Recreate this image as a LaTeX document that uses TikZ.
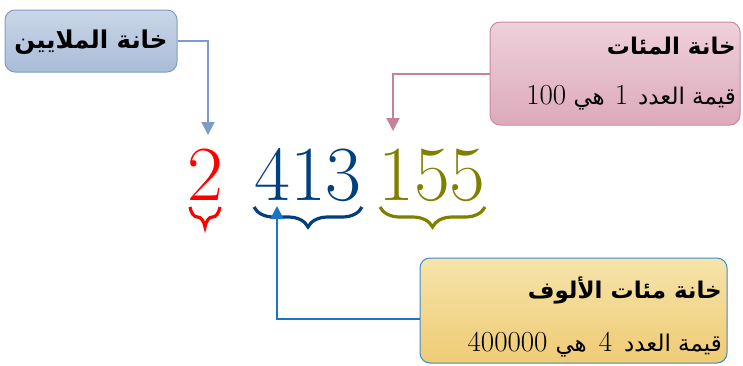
\documentclass[tikz,border=0pt]{standalone}
\usepackage{fontspec}
\newfontfamily\arabicfont[Script=Arabic]{DejaVu Sans}
\TeXXeTstate=1
\usetikzlibrary{decorations.pathreplacing,arrows.meta}
\definecolor{bAline}{HTML}{7F9CC8}
\definecolor{bAtop}{HTML}{CAD6E7}
\definecolor{bAbot}{HTML}{A8BCD8}
\definecolor{bBline}{HTML}{C98AA2}
\definecolor{bBtop}{HTML}{EED0DB}
\definecolor{bBbot}{HTML}{DDAABB}
\definecolor{bCline}{HTML}{3C8AC8}
\definecolor{bCtop}{HTML}{F6E4AA}
\definecolor{bCbot}{HTML}{EFCB74}
\definecolor{arB}{HTML}{C8809C}
\definecolor{arC}{HTML}{1C75C4}
\definecolor{dRed}{HTML}{FF0000}
\definecolor{dBlue}{HTML}{00407F}
\definecolor{dOlive}{HTML}{808000}
\newcommand{\lmnum}[1]{{\rmfamily\fontsize{29}{29}\selectfont #1}}
\tikzset{
  box/.style={draw, rounded corners=10pt, line width=1pt, inner sep=0pt},
  artxt/.style={inner sep=0pt, font=\arabicfont\fontsize{23}{26}\selectfont},
  artxtb/.style={inner sep=0pt, font=\arabicfont\bfseries\fontsize{23}{26}\selectfont},
  digit/.style={inner sep=0pt, anchor=base, font=\fontsize{78}{78}\selectfont},
  conn/.style={line width=2pt, -{Triangle[width=13pt,length=13pt]}},
  brc/.style={decorate, decoration={brace, mirror, amplitude=20pt}, line width=3.2pt}
}
\begin{document}
\begin{tikzpicture}[x=1pt,y=-1pt]
\useasboundingbox (0,0) rectangle (743,365);
% boxes
\node[box, draw=bAline, top color=bAtop, bottom color=bAbot, minimum width=172pt, minimum height=62pt] (mil) at (91,41) {};
\node[artxtb, font=\arabicfont\bfseries\fontsize{24.5}{26}\selectfont] (milt) at (91,42) {\beginR خانة الملايين\endR};
\node[box, draw=bBline, top color=bBtop, bottom color=bBbot, minimum width=250pt, minimum height=103pt] (cent) at (615,73.5) {};
\node[artxtb, anchor=east] (centa) at (736,46) {\beginR خانة المئات\endR};
\node[artxt, anchor=east] (centb) at (736,98) {\beginR قيمة العدد\hspace{10pt}\lmnum{1}\hspace{10pt}هي \beginL\lmnum{100}\endL\endR};
\node[box, draw=bCline, top color=bCtop, bottom color=bCbot, minimum width=307pt, minimum height=105pt] (thou) at (573.5,310.5) {};
\node[artxtb, anchor=east] (thoua) at (722,290) {\beginR خانة مئات الألوف\endR};
\node[artxt, anchor=east] (thoub) at (722,345) {\beginR قيمة العدد\hspace{12pt}\lmnum{4}\hspace{12pt}هي\hspace{8pt}\beginL\lmnum{400000}\endL\endR};
% digits
\node[digit, text=dRed] (d2) at (205,200) {2};
\node[digit, text=dBlue] (d413) at (308,200) {413};
\node[digit, text=dOlive] (d155) at (432,200) {155};
% braces
\draw[brc, draw=dRed] (190,207) -- (220,207);
\draw[brc, draw=dBlue] (254,207) -- (362,207);
\draw[brc, draw=dOlive] (380,207) -- (485,207);
% connectors
\coordinate (tA) at (208,135);
\coordinate (tB) at (393,131);
\coordinate (tC) at (277,206);
\coordinate (sC) at (420,319);
\draw[conn, draw=bAline] (mil.east) -| (tA);
\draw[conn, draw=arB] (cent.west) -| (tB);
\draw[conn, draw=arC] (sC) -| (tC);
\end{tikzpicture}
\end{document}
